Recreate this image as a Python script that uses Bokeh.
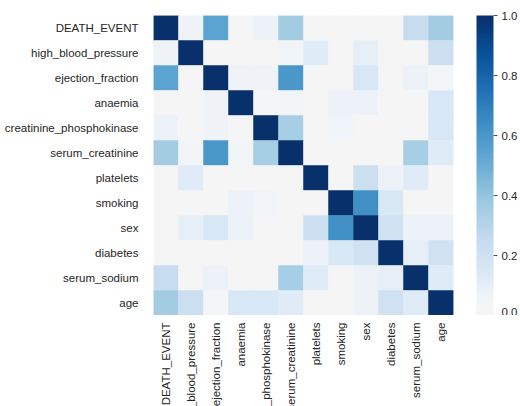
import math
from bokeh.plotting import figure
from bokeh.layouts import column
from bokeh.models import (ColumnDataSource, LinearColorMapper, ColorBar, FixedTicker,
                          PrintfTickFormatter, FactorRange, Range1d)
from bokeh.core.properties import value
from bokeh.transform import transform
from bokeh.palettes import Blues256
from bokeh.embed import file_html
from bokeh.resources import INLINE

features = ["DEATH_EVENT", "high_blood_pressure", "ejection_fraction", "anaemia",
            "creatinine_phosphokinase", "serum_creatinine", "platelets", "smoking",
            "sex", "diabetes", "serum_sodium", "age"]

r_death = [1.00, 0.07, 0.55, 0.00, 0.08, 0.36, 0.00, 0.00, 0.00, 0.00, 0.24, 0.36]
r_hbp   = [0.07, 1.00, 0.00, 0.00, 0.00, 0.05, 0.12, 0.00, 0.10, 0.00, 0.00, 0.22]
r_ef    = [0.55, 0.00, 1.00, 0.07, 0.07, 0.60, 0.00, 0.00, 0.16, 0.00, 0.08, 0.04]
r_an    = [0.00, 0.00, 0.07, 1.00, 0.04, 0.05, 0.00, 0.08, 0.08, 0.00, 0.00, 0.16]
r_cpk   = [0.08, 0.00, 0.07, 0.04, 1.00, 0.35, 0.00, 0.06, 0.00, 0.00, 0.00, 0.16]
r_sc    = [0.36, 0.05, 0.60, 0.05, 0.35, 1.00, 0.00, 0.00, 0.00, 0.00, 0.35, 0.12]
r_pl    = [0.00, 0.12, 0.00, 0.00, 0.00, 0.00, 1.00, 0.00, 0.22, 0.08, 0.12, 0.00]
r_sm    = [0.00, 0.00, 0.00, 0.08, 0.06, 0.00, 0.00, 1.00, 0.63, 0.15, 0.00, 0.00]
r_sex   = [0.00, 0.10, 0.16, 0.08, 0.00, 0.00, 0.22, 0.63, 1.00, 0.20, 0.08, 0.08]
r_dia   = [0.00, 0.00, 0.00, 0.00, 0.00, 0.00, 0.08, 0.15, 0.20, 1.00, 0.10, 0.20]
r_sna   = [0.24, 0.00, 0.08, 0.00, 0.00, 0.35, 0.12, 0.00, 0.08, 0.10, 1.00, 0.12]
r_age   = [0.36, 0.22, 0.04, 0.16, 0.16, 0.12, 0.00, 0.00, 0.08, 0.20, 0.12, 1.00]

cb_ticks = [0.0, 0.2, 0.4, 0.6, 0.8, 1.0]

rows = [r_death, r_hbp, r_ef, r_an, r_cpk, r_sc, r_pl, r_sm, r_sex, r_dia, r_sna, r_age]
xs, ys, vals = [], [], []
for i, row in enumerate(rows):
    for j, v in enumerate(row):
        ys.append(features[i])
        xs.append(features[j])
        vals.append(v)
src = ColumnDataSource(dict(x=xs, y=ys, v=vals))

# Blues, with its palest end drawn towards a neutral light grey
def _hex(c):
    return tuple(int(c[k:k + 2], 16) for k in (1, 3, 5))
base = list(reversed(Blues256))
grey = (245, 245, 245)
palette = []
for i, c in enumerate(base):
    t = i / 255.0
    w = max(0.0, 1.0 - t / 0.12)
    rgb = _hex(c)
    mix = tuple(round(rgb[k] * (1 - w) + grey[k] * w) for k in range(3))
    palette.append("#%02x%02x%02x" % mix)

mapper = LinearColorMapper(palette=palette, low=0.0, high=1.0)

FONT = "Liberation Sans"
TXT = "#262626"
FS = "11.5px"

p = figure(width=520, height=315, output_backend="svg", toolbar_location=None,
           x_range=FactorRange(*features), y_range=FactorRange(*reversed(features)),
           min_border_left=153, min_border_top=15, min_border_right=67, min_border_bottom=0)
p.rect(x="x", y="y", width=1, height=1, source=src,
       fill_color=transform("v", mapper), line_color=transform("v", mapper), line_width=0.5)

p.grid.visible = False
p.outline_line_color = None
p.xaxis.visible = False
ya = p.yaxis[0]
ya.axis_line_color = None
ya.major_tick_line_color = None
ya.minor_tick_line_color = None
ya.major_tick_out = 0
ya.major_tick_in = 0
ya.major_label_standoff = 15
ya.major_label_text_font = FONT
ya.major_label_text_font_size = FS
ya.major_label_text_color = TXT

cb = ColorBar(color_mapper=mapper, width=17, height=300, location=(323, 0),
              padding=0, margin=0, ticker=FixedTicker(ticks=cb_ticks),
              formatter=PrintfTickFormatter(format="%.1f"),
              major_tick_in=0, major_tick_out=4, major_tick_line_color="#555555",
              label_standoff=4, major_label_text_font=FONT,
              major_label_text_font_size=FS, major_label_text_color=TXT,
              bar_line_color=None, border_line_color=None, background_fill_color=None)
p.add_layout(cb, "center")

# x tick labels, in a strip below the heatmap that shares its x scale
p2 = figure(width=520, height=91, output_backend="svg", toolbar_location=None,
            x_range=p.x_range, y_range=Range1d(-84, 7),
            min_border_left=153, min_border_right=67, min_border_top=0, min_border_bottom=0)
p2.axis.visible = False
p2.grid.visible = False
p2.outline_line_color = None
lab_src = ColumnDataSource(dict(x=features, y=[0] * len(features), t=features))
p2.text(x="x", y="y", text="t", source=lab_src, angle=math.pi / 2,
        text_align="right", text_baseline="middle",
        text_font=value(FONT), text_font_size=value(FS), text_color=TXT)

layout = column(p, p2, spacing=0)
open("out.html", "w").write(file_html(layout, INLINE))
